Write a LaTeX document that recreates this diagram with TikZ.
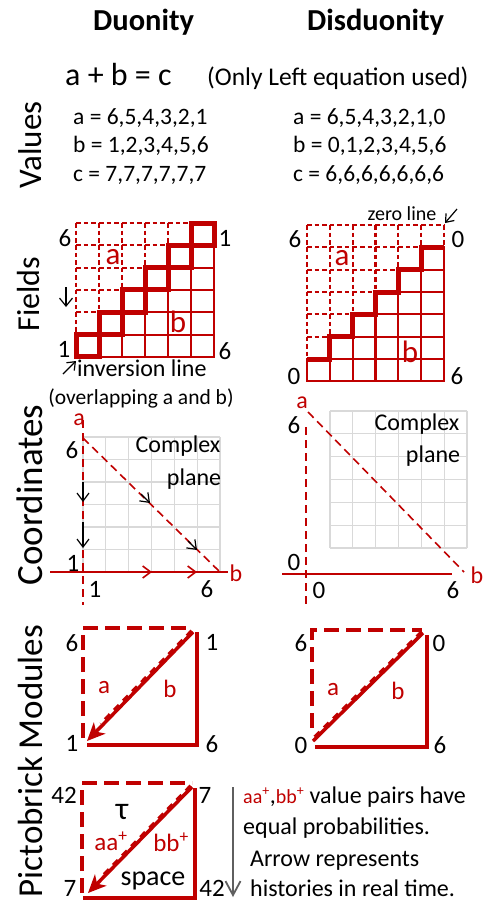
\documentclass[tikz,border=0pt]{standalone}
\usepackage{fontspec}
\setmainfont{Carlito}
\usetikzlibrary{arrows.meta}
\definecolor{dred}{RGB}{192,0,0}
\definecolor{gridgray}{RGB}{217,217,217}
\definecolor{arrgray}{RGB}{95,95,95}
\begin{document}
\begin{tikzpicture}[x=1pt,y=-1pt,
  ttl/.style={font=\fontsize{30.5}{32}\selectfont\bfseries, inner sep=0pt, anchor=base west},
  sidelbl/.style={font=\fontsize{33}{35}\selectfont, rotate=90, inner sep=0pt},
  txt/.style={font=\fontsize{24}{26}\selectfont, inner sep=0pt, anchor=base west},
  vtxt/.style={font=\fontsize{23.5}{25}\selectfont, inner sep=0pt, anchor=base west},
  num/.style={font=\fontsize{25}{27}\selectfont, inner sep=0pt},
  rnum/.style={num, text=dred},
  bigr/.style={font=\fontsize{31}{33}\selectfont, inner sep=0pt, text=dred},
  gd/.style={draw=dred, line width=2.2pt, dash pattern=on 4.5pt off 3pt},
  gs/.style={draw=dred, line width=2.2pt, line cap=rect},
  thk/.style={draw=dred, line width=5pt, line join=miter},
  cgrid/.style={draw=gridgray, line width=1.2pt},
  axd/.style={draw=dred, line width=1.6pt, dash pattern=on 8pt off 5pt},
  axs/.style={draw=dred, line width=1.6pt},
  barb/.style={-{Straight Barb[length=8pt,width=12pt]}},
  pbd/.style={draw=dred, line width=4pt, dash pattern=on 15pt off 7pt},
  pbs/.style={draw=dred, line width=3.5pt},
  pbov/.style={draw=dred, line width=4pt, dash pattern=on 7pt off 6pt, transform canvas={shift={(-1pt,1pt)}}},
  pbarr/.style={-{Stealth[length=18pt,width=16pt,inset=5pt]}},
]
\useasboundingbox (0,0) rectangle (486,903);
\fill[white] (0,0) rectangle (486,903);

% ---------- titles ----------
\node[ttl] (t1) at (93,30) {Duonity};
\node[ttl] (t2) at (307,30) {Disduonity};
\node[txt, font=\fontsize{32}{34}\selectfont] (eq) at (65,85) {a + b = c};
\node[txt, font=\fontsize{25.5}{27}\selectfont] (eqn) at (207,85) {(Only Left equation used)};

% ---------- side labels ----------
\node[sidelbl] (sv) at (30,145) {Values};
\node[sidelbl, font=\fontsize{32}{34}\selectfont] (sf) at (29,294) {Fields};
\node[sidelbl, font=\fontsize{37}{39}\selectfont] (sc) at (30,495) {Coordinates};
\node[sidelbl, font=\fontsize{35}{37}\selectfont] (sp) at (30,761) {Pictobrick Modules};

% ---------- values ----------
\node[vtxt] (va1) at (73,124) {a = 6,5,4,3,2,1};
\node[vtxt] (vb1) at (73,152) {b = 1,2,3,4,5,6};
\node[vtxt] (vc1) at (73,181) {c = 7,7,7,7,7,7};
\node[vtxt] (va2) at (293,124) {a = 6,5,4,3,2,1,0};
\node[vtxt] (vb2) at (293,152) {b = 0,1,2,3,4,5,6};
\node[vtxt] (vc2) at (293,181) {c = 6,6,6,6,6,6,6};

% ---------- fields left (6x6) ----------
\foreach \k in {0,...,6}{\foreach \j in {0,...,5}{
  \pgfmathtruncatemacro\dd{and(or(\k<1,\j+\k-1<5),or(\k>5,\j+\k<5))}
  \ifnum\dd=1\relax \draw[gd] (76+23*\j,223+22.33*\k) -- ++(23,0);\fi}}
\foreach \i in {0,...,6}{\foreach \r in {0,...,5}{
  \pgfmathtruncatemacro\dd{and(or(\i<1,\i-1+\r<5),or(\i>5,\i+\r<5))}
  \ifnum\dd=1\relax \draw[gd] (76+23*\i,223+22.33*\r) -- ++(0,22.33);\fi}}
\foreach \k in {0,...,6}{\foreach \j in {0,...,5}{
  \pgfmathtruncatemacro\dd{and(or(\k<1,\j+\k-1<5),or(\k>5,\j+\k<5))}
  \ifnum\dd=0\relax \draw[gs] (76+23*\j,223+22.33*\k) -- ++(23,0);\fi}}
\foreach \i in {0,...,6}{\foreach \r in {0,...,5}{
  \pgfmathtruncatemacro\dd{and(or(\i<1,\i-1+\r<5),or(\i>5,\i+\r<5))}
  \ifnum\dd=0\relax \draw[gs] (76+23*\i,223+22.33*\r) -- ++(0,22.33);\fi}}
\foreach \j in {0,...,5}{\draw[thk] (76+23*\j,223+22.33*5-22.33*\j) rectangle ++(23,22.33);}

\node[num] (f6a) at (65,238) {6};
\node[num] (f1a) at (225,238) {1};
\node[num] (f1b) at (64,349) {1};
\node[num] (f6b) at (225,351) {6};
\node[bigr] (fa1) at (113,257) {a};
\node[bigr] (fb1) at (178,322) {b};
\coordinate (dn1) at (66,287);
\coordinate (dn2) at (66,307);
\draw[black, line width=1.2pt, -{Straight Barb[length=8pt,width=13pt]}] (dn1) -- (dn2);
\coordinate (inv1) at (63,374);
\coordinate (inv2) at (76,361);
\draw[black, line width=1.2pt, -{Straight Barb[length=7pt,width=11pt]}] (inv1) -- (inv2);
\node[txt] (invl) at (77,376) {inversion line};
\node[inner sep=0pt, font=\fontsize{21.5}{23}\selectfont] (ovl) at (141,398) {(overlapping a and b)};

% ---------- fields right (6x7) ----------
\foreach \k in {0,...,7}{\foreach \j in {0,...,5}{
  \pgfmathtruncatemacro\dd{and(or(\k<1,\j+\k-1<6),or(\k>6,\j+\k<6))}
  \ifnum\dd=1\relax \draw[gd] (307+22.83*\j,225+22.33*\k) -- ++(22.83,0);\fi}}
\foreach \i in {0,...,6}{\foreach \r in {0,...,6}{
  \pgfmathtruncatemacro\dd{and(or(\i<1,\i-1+\r<6),or(\i>5,\i+\r<6))}
  \ifnum\dd=1\relax \draw[gd] (307+22.83*\i,225+22.33*\r) -- ++(0,22.33);\fi}}
\foreach \k in {0,...,7}{\foreach \j in {0,...,5}{
  \pgfmathtruncatemacro\dd{and(or(\k<1,\j+\k-1<6),or(\k>6,\j+\k<6))}
  \ifnum\dd=0\relax \draw[gs] (307+22.83*\j,225+22.33*\k) -- ++(22.83,0);\fi}}
\foreach \i in {0,...,6}{\foreach \r in {0,...,6}{
  \pgfmathtruncatemacro\dd{and(or(\i<1,\i-1+\r<6),or(\i>5,\i+\r<6))}
  \ifnum\dd=0\relax \draw[gs] (307+22.83*\i,225+22.33*\r) -- ++(0,22.33);\fi}}
\draw[thk] (307,359) -- (329.83,359) -- (329.83,336.67) -- (352.67,336.67) -- (352.67,314.33)
  -- (375.5,314.33) -- (375.5,292) -- (398.33,292) -- (398.33,269.67) -- (421.17,269.67)
  -- (421.17,247.33) -- (444,247.33);

\node[num] (g6a) at (295,239) {6};
\node[num] (g0a) at (458,239) {0};
\node[num] (g0b) at (294,376) {0};
\node[num] (g6b) at (457,376) {6};
\node[bigr] (fa2) at (342,258) {a};
\node[bigr] (fb2) at (410,352) {b};
\node[inner sep=0pt, font=\fontsize{20}{22}\selectfont] (zl) at (402,214) {zero line};
\coordinate (z1) at (457,209);
\coordinate (z2) at (445,223);
\draw[black, line width=1.2pt, -{Straight Barb[length=7pt,width=11pt]}] (z1) -- (z2);

% ---------- coordinates left ----------
\foreach \i in {0,...,6}{\draw[cgrid] (83+22.83*\i,437) -- ++(0,135);}
\foreach \r in {0,...,6}{\draw[cgrid] (83,437+22.5*\r) -- ++(137,0);}
\coordinate (ca1) at (83,420);
\coordinate (ca2) at (83,605);
\coordinate (cb1) at (50,572);
\coordinate (cb2) at (228,572);
\coordinate (cd1) at (83,438);
\coordinate (cd2) at (221,573);
\draw[axd] (ca1) -- (ca2);
\draw[axs] (cb1) -- (cb2);
\draw[axd] (cd1) -- (cd2);
\draw[black, line width=1.2pt, barb] (83,482) -- (83,502);
\draw[black, line width=1.2pt, barb] (83,522) -- (83,548);
\draw[black, line width=1.2pt, barb] (141,494) -- (150,503);
\draw[black, line width=1.2pt, barb] (188,541) -- (197,550);
\draw[dred, line width=1.6pt, barb] (140,572) -- (152,572);
\draw[dred, line width=1.6pt, barb] (185,572) -- (197,572);
\node[rnum, font=\fontsize{24}{26}\selectfont] (cla) at (79,420) {a};
\node[rnum, font=\fontsize{24}{26}\selectfont] (clb) at (236,573) {b};
\node[num] (c6a) at (72,450) {6};
\node[num] (c1a) at (73,563) {1};
\node[num] (c1b) at (95,589) {1};
\node[num] (c6b) at (207,589) {6};
\node[txt, anchor=center] (cx1) at (178,446) {Complex};
\node[txt, anchor=center] (pl1) at (194,479) {plane};

% ---------- coordinates right ----------
\foreach \i in {0,...,6}{\draw[cgrid] (330+22.83*\i,411) -- ++(0,137);}
\foreach \r in {0,...,6}{\draw[cgrid] (330,411+22.83*\r) -- ++(137,0);}
\coordinate (da1) at (306,427);
\coordinate (da2) at (306,605);
\coordinate (db1) at (282,574);
\coordinate (db2) at (452,574);
\coordinate (dd1) at (308,412);
\coordinate (dd2) at (464,572);
\draw[axd] (da1) -- (da2);
\draw[axs] (db1) -- (db2);
\draw[axd] (dd1) -- (dd2);
\node[rnum, font=\fontsize{24}{26}\selectfont] (dla) at (302,403) {a};
\node[rnum, font=\fontsize{24}{26}\selectfont] (dlb) at (477,575) {b};
\node[num] (d6a) at (294,425) {6};
\node[num] (d0a) at (294,562) {0};
\node[num] (d0b) at (319,590) {0};
\node[num] (d6b) at (453,590) {6};
\node[txt, anchor=center] (cx2) at (417,424) {Complex};
\node[txt, anchor=center] (pl2) at (433,456) {plane};

% ---------- pictobrick left ----------
\coordinate (p1tl) at (83,628);
\coordinate (p1bl) at (83,738);
\coordinate (p1tr) at (193,628);
\coordinate (p1rt) at (197,632);
\coordinate (p1br) at (197,745);
\coordinate (p1bb) at (87,745);
\coordinate (p1d1) at (193,632);
\coordinate (p1d2) at (87,741);
\coordinate (p1ov) at (102,725);
\draw[pbd] (p1bl) -- (p1tl) -- (p1tr);
\draw[pbs] (p1rt) -- (p1br) -- (p1bb);
\draw[pbov] (p1d1) -- (p1ov);
\draw[pbs, pbarr] (p1d1) -- (p1d2);
\node[num] (q6a) at (72,643) {6};
\node[num] (q1a) at (212,642) {1};
\node[num] (q1b) at (72,743) {1};
\node[num] (q6b) at (212,744) {6};
\node[rnum] (qa) at (104,688) {a};
\node[rnum] (qb) at (170,689) {b};

% ---------- pictobrick right ----------
\coordinate (p2tl) at (312,630);
\coordinate (p2bl) at (312,728);
\coordinate (p2tr) at (422,630);
\coordinate (p2rt) at (427,635);
\coordinate (p2br) at (427,747);
\coordinate (p2bb) at (315,747);
\coordinate (p2d1) at (423,633);
\coordinate (p2d2) at (313,741);
\draw[pbd] (p2bl) -- (p2tl) -- (p2tr);
\draw[pbs] (p2rt) -- (p2br) -- (p2bb);
\draw[pbov] (p2d1) -- (p2d2);
\draw[pbs] (p2d1) -- (p2d2);
\node[num] (r6a) at (301,643) {6};
\node[num] (r0a) at (439,643) {0};
\node[num] (r0b) at (301,745) {0};
\node[num] (r6b) at (440,745) {6};
\node[rnum] (ra) at (333,690) {a};
\node[rnum] (rb) at (398,691) {b};

% ---------- pictobrick bottom ----------
\coordinate (p3tl) at (82,783);
\coordinate (p3bl) at (82,893);
\coordinate (p3tr) at (192,783);
\coordinate (p3rt) at (195,788);
\coordinate (p3br) at (195,898);
\coordinate (p3bb) at (83,898);
\coordinate (p3d1) at (192,787);
\coordinate (p3d2) at (88,893);
\coordinate (p3ov) at (102,879);
\draw[pbd] (p3bl) -- (p3tl) -- (p3tr);
\draw[pbs] (p3rt) -- (p3br) -- (p3bb);
\draw[pbov] (p3d1) -- (p3ov);
\draw[pbs, pbarr] (p3d1) -- (p3d2);
\node[num] (s42a) at (64,795) {42};
\node[num] (s7a) at (205,795) {7};
\node[num] (s7b) at (70,888) {7};
\node[num] (s42b) at (212,888) {42};
\node[inner sep=0pt, font=\fontsize{32}{34}\selectfont] (tau) at (122,812) {τ};
\node[rnum] (saa) at (111,841) {aa\textsuperscript{+}};
\node[rnum] (sbb) at (171,842) {bb\textsuperscript{+}};
\node[inner sep=0pt, font=\fontsize{28}{30}\selectfont] (spc) at (153,881) {space};

% ---------- gray time arrow and note ----------
\coordinate (ga1) at (233,787);
\coordinate (ga2) at (233,897);
\draw[arrgray, line width=1.8pt, -{Straight Barb[length=14pt,width=15pt]}] (ga1) -- (ga2);
\node[txt] (n1) at (243,803) {{\fontsize{20}{22}\selectfont\color{dred}aa\textsuperscript{+}},{\fontsize{20}{22}\selectfont\color{dred}bb\textsuperscript{+}} value pairs have};
\node[txt] (n2) at (243,834) {equal probabilities.};
\node[txt] (n3) at (250,866) {Arrow represents};
\node[txt] (n4) at (250,896) {histories in real time.};
\end{tikzpicture}
\end{document}
